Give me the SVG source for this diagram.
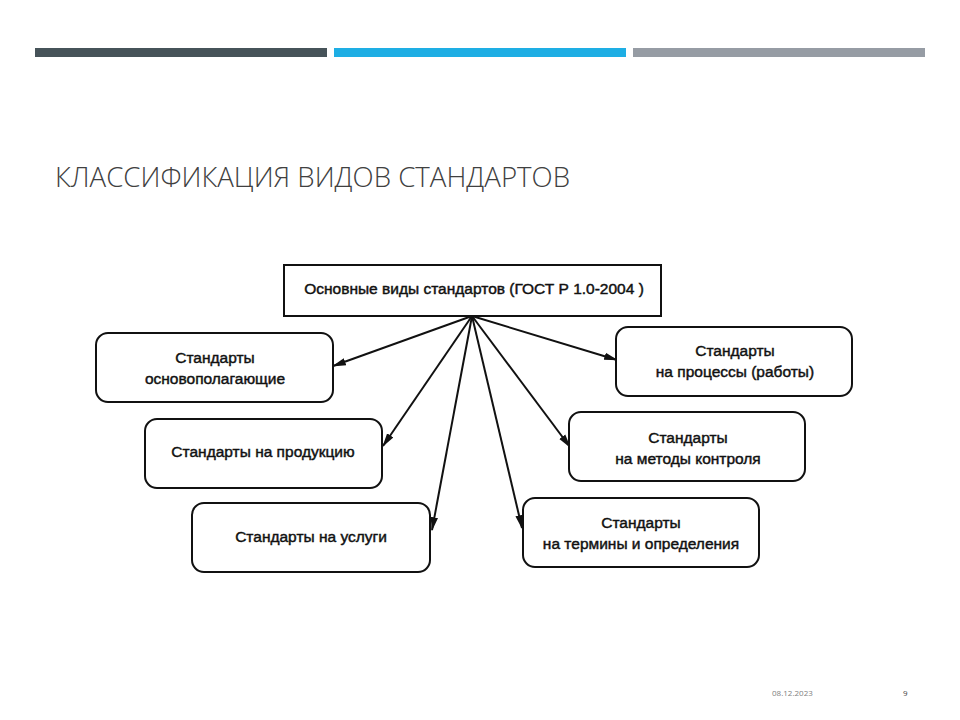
<svg xmlns="http://www.w3.org/2000/svg" width="960" height="720" viewBox="0 0 960 720">
<defs>
<style>
.box{fill:#fff;stroke:#111;stroke-width:2}
.t{font-family:"Liberation Sans",Arial,sans-serif;font-size:15.5px;fill:#111;stroke:#111;stroke-width:0.45;text-anchor:middle}
.c{stroke:#111;stroke-width:2;fill:none;marker-end:url(#ah)}
</style>
<marker id="ah" viewBox="0 0 12 10" refX="11" refY="5" markerWidth="7" markerHeight="6" orient="auto" markerUnits="strokeWidth">
<path d="M0,1.8 L12,5 L0,8.2 Z" fill="#111"/>
</marker>
</defs>
<rect width="960" height="720" fill="#fff"/>
<rect x="35" y="48" width="292" height="9" fill="#465359"/>
<rect x="334" y="48" width="292" height="9" fill="#1eaee4"/>
<rect x="633" y="48" width="292" height="9" fill="#969ca4"/>
<text x="55" y="187" font-family="'Open Sans',sans-serif" font-weight="300" font-size="27" fill="#404040" textLength="515" lengthAdjust="spacingAndGlyphs">КЛАССИФИКАЦИЯ ВИДОВ СТАНДАРТОВ</text>
<g id="connectors">
<line class="c" x1="472" y1="316" x2="333" y2="366"/>
<line class="c" x1="472" y1="316" x2="383" y2="446"/>
<line class="c" x1="472" y1="316" x2="432" y2="530"/>
<line class="c" x1="472" y1="316" x2="522" y2="528"/>
<line class="c" x1="472" y1="316" x2="570" y2="447"/>
<line class="c" x1="472" y1="316" x2="617" y2="360"/>
</g>
<g id="main">
<rect class="box" x="284" y="265" width="377" height="51"/>
<text class="t" x="474" y="294">Основные виды стандартов (ГОСТ Р 1.0-2004 )</text>
</g>
<g id="n1">
<rect class="box" x="96" y="333" width="237" height="69" rx="12"/>
<text class="t" x="215" y="363">Стандарты</text>
<text class="t" x="215" y="384">основополагающие</text>
</g>
<g id="n2">
<rect class="box" x="145" y="419" width="237" height="69" rx="12"/>
<text class="t" x="263" y="457">Стандарты на продукцию</text>
</g>
<g id="n3">
<rect class="box" x="192" y="503" width="238" height="69" rx="12"/>
<text class="t" x="311" y="542">Стандарты на услуги</text>
</g>
<g id="n4">
<rect class="box" x="616" y="327" width="236" height="69" rx="12"/>
<text class="t" x="735" y="356">Стандарты</text>
<text class="t" x="735" y="377">на процессы (работы)</text>
</g>
<g id="n5">
<rect class="box" x="569" y="412" width="236" height="69" rx="12"/>
<text class="t" x="688" y="443">Стандарты</text>
<text class="t" x="688" y="464">на методы контроля</text>
</g>
<g id="n6">
<rect class="box" x="523" y="498" width="236" height="69" rx="12"/>
<text class="t" x="641" y="528">Стандарты</text>
<text class="t" x="641" y="549">на термины и определения</text>
</g>
<text x="772" y="696" font-family="'Open Sans',sans-serif" font-size="8" fill="#808080">08.12.2023</text>
<text x="903" y="696" font-family="'Open Sans',sans-serif" font-size="8" fill="#404040">9</text>
</svg>
